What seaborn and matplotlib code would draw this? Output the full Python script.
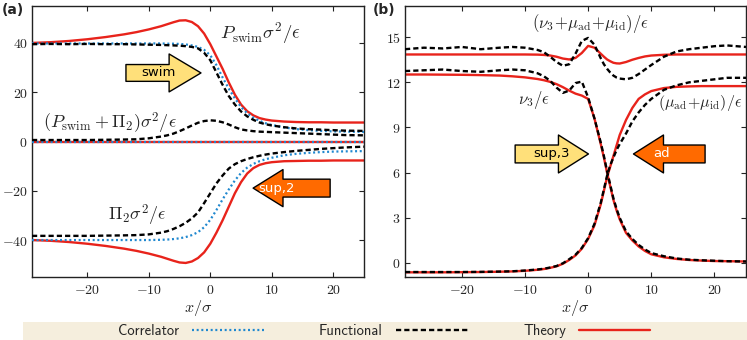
"""Pressure and chemical potential profiles across the interface, panels (a) and (b)."""
import matplotlib
matplotlib.use('Agg')
import matplotlib.pyplot as plt
import seaborn as sns
from matplotlib.patches import FancyArrow, Rectangle
from matplotlib.ticker import FuncFormatter, MultipleLocator

# ---- panel (a): pressures ----
xa = [-29, -26, -23, -20, -17, -14, -12, -10, -8, -7, -6, -5, -4, -3, -2, -1, 0,
      1, 2, 3, 4, 5, 6, 7, 8, 9, 10, 12, 14, 16, 18, 20, 22, 25]
theory_swim = [40.0, 40.3, 40.8, 41.5, 42.4, 43.5, 44.4, 45.5, 46.8, 47.6, 48.4, 49.1,
               49.2, 48.5, 46.8, 43.8, 39.5, 34.5, 29.5, 24.0, 19.0, 15.0, 12.3, 10.6,
               9.5, 8.9, 8.5, 8.1, 7.9, 7.8, 7.8, 7.7, 7.7, 7.7]
theory_pi2 = [-40.0, -40.3, -40.8, -41.5, -42.4, -43.5, -44.4, -45.5, -46.8, -47.6, -48.4,
              -49.1, -49.3, -48.7, -47.3, -45.0, -41.5, -37.0, -32.0, -26.5, -21.0, -16.5,
              -13.0, -10.8, -9.5, -8.8, -8.4, -8.0, -7.9, -7.8, -7.8, -7.7, -7.7, -7.7]
func_swim = [39.5, 39.6, 39.5, 39.6, 39.5, 39.5, 39.4, 39.3, 39.2, 39.1, 39.0, 38.9, 38.7,
             38.4, 37.8, 36.0, 33.0, 28.0, 23.0, 18.5, 15.0, 12.2, 10.2, 8.8, 7.7, 7.0,
             6.5, 5.8, 5.3, 5.0, 4.8, 4.6, 4.4, 4.3]
func_pi2 = [-38.3, -38.3, -38.3, -38.3, -38.2, -38.1, -38.0, -37.7, -37.0, -36.4, -35.5,
            -34.4, -33.0, -31.2, -28.8, -25.0, -21.0, -17.0, -13.8, -11.0, -9.2, -8.0,
            -7.1, -6.4, -5.8, -5.3, -4.9, -4.3, -3.8, -3.4, -3.0, -2.7, -2.4, -2.1]
func_sum = [0.6, 0.6, 0.6, 0.6, 0.7, 0.8, 0.9, 1.3, 2.0, 2.5, 3.2, 4.2, 5.3, 6.5, 7.6, 8.3,
            8.6, 8.4, 7.8, 6.9, 5.8, 4.9, 4.5, 4.2, 4.0, 3.9, 3.8, 3.6, 3.4, 3.2, 3.0, 2.8,
            2.6, 2.5]
corr_swim = [39.8, 39.8, 39.8, 39.8, 39.8, 39.8, 39.8, 39.8, 39.8, 39.7, 39.7, 39.6, 39.4,
             39.0, 38.4, 37.2, 35.0, 31.0, 26.0, 21.5, 17.5, 14.0, 11.5, 9.7, 8.4, 7.4,
             6.7, 5.7, 5.0, 4.6, 4.3, 4.1, 4.0, 3.9]
corr_pi2 = [-40.0, -40.0, -40.0, -40.0, -40.0, -40.0, -40.0, -40.0, -39.9, -39.8, -39.6,
            -39.3, -38.8, -38.0, -36.8, -34.8, -31.8, -27.8, -23.5, -19.5, -15.8, -12.8,
            -10.6, -9.1, -8.0, -7.2, -6.6, -5.6, -5.0, -4.6, -4.3, -4.1, -4.0, -3.9]
# theory and correlator sums are exactly zero
x_ends = [-29, 25]
zero_sum = [0.0, 0.0]

# ---- panel (b): chemical potentials ----
xb = [-29, -26, -23, -20, -17, -14, -12, -10, -8, -7, -6, -5, -4, -3, -2, -1, 0, 1, 2,
      2.5, 3, 3.5, 4, 4.5, 5, 6, 7, 8, 9, 10, 12, 14, 16, 18, 20, 22, 25]
theory_total = [13.85, 13.85, 13.85, 13.85, 13.85, 13.85, 13.85, 13.85, 13.84, 13.82, 13.78,
                13.70, 13.58, 13.52, 13.62, 13.95, 14.42, 14.3, 13.9, 13.7, 13.52, 13.4,
                13.3, 13.26, 13.25, 13.35, 13.5, 13.62, 13.72, 13.78, 13.83, 13.85, 13.85,
                13.85, 13.85, 13.85, 13.85]
func_total = [14.2, 14.3, 14.25, 14.35, 14.2, 14.3, 14.35, 14.3, 14.15, 14.0, 13.7, 13.35,
              13.1, 13.2, 13.9, 14.75, 14.95, 14.5, 13.6, 13.2, 12.9, 12.65, 12.45, 12.32,
              12.25, 12.2, 12.3, 12.55, 12.85, 13.15, 13.7, 14.05, 14.2, 14.3, 14.4, 14.45,
              14.35]
theory_nu = [12.52, 12.52, 12.51, 12.5, 12.48, 12.45, 12.4, 12.33, 12.22, 12.14, 12.03,
             11.88, 11.68, 11.45, 11.25, 11.12, 10.9, 9.6, 7.9, 7.0, 6.0, 5.1, 4.2, 3.5,
             2.9, 2.0, 1.5, 1.1, 0.8, 0.58, 0.38, 0.27, 0.2, 0.16, 0.13, 0.12, 0.1]
func_nu = [12.75, 12.8, 12.85, 12.75, 12.7, 12.8, 12.85, 12.8, 12.6, 12.4, 12.1, 11.65,
           11.3, 11.45, 11.95, 12.05, 11.0, 9.6, 8.0, 7.1, 6.1, 5.2, 4.3, 3.6, 3.0, 2.1,
           1.6, 1.2, 0.9, 0.66, 0.45, 0.3, 0.22, 0.18, 0.15, 0.12, 0.1]
theory_mu = [-0.62, -0.62, -0.62, -0.61, -0.6, -0.58, -0.56, -0.52, -0.45, -0.4, -0.32,
             -0.22, -0.05, 0.2, 0.5, 0.95, 1.6, 2.5, 3.9, 4.8, 5.7, 6.4, 7.1, 7.8, 8.5,
             9.5, 10.3, 10.9, 11.2, 11.42, 11.62, 11.7, 11.73, 11.75, 11.75, 11.75, 11.75]
func_mu = [-0.6, -0.6, -0.6, -0.6, -0.59, -0.57, -0.55, -0.5, -0.43, -0.38, -0.3, -0.2,
           -0.02, 0.25, 0.55, 1.0, 1.65, 2.6, 4.0, 4.9, 5.8, 6.5, 7.0, 7.5, 7.9, 8.6, 9.4,
           10.0, 10.5, 10.9, 11.5, 11.8, 12.0, 12.1, 12.2, 12.3, 12.3]

RED = '#e8231b'
BLUE = '#2088cf'
YELLOW = '#ffe07a'
ORANGE = '#ff6a00'
BEIGE = '#f5eedd'

sns.set_style('ticks')
plt.rcParams['mathtext.fontset'] = 'cm'
plt.rcParams['font.family'] = ['DejaVu Sans']

DASH = (0, (2.2, 1.3))
DOT = (0, (0.9, 1.2))
LW = 1.7


def tick_fmt(v, pos):
    return r'$\mathrm{%g}$' % v


def style_axes(ax, xlim, ylim, ystep):
    ax.set_xlim(*xlim)
    ax.set_ylim(*ylim)
    ax.xaxis.set_major_locator(MultipleLocator(10))
    ax.yaxis.set_major_locator(MultipleLocator(ystep))
    ax.xaxis.set_major_formatter(FuncFormatter(tick_fmt))
    ax.yaxis.set_major_formatter(FuncFormatter(tick_fmt))
    ax.tick_params(direction='in', top=True, right=True, length=3.5, width=0.8,
                   labelsize=10, pad=4, color='#222222')
    ax.tick_params(axis='y', pad=3)
    for s in ax.spines.values():
        s.set_linewidth(1.0)
        s.set_color('#222222')
    ax.set_xlabel(r'$x/\sigma$', fontsize=11.5, labelpad=1)
    ax.set_ylabel('')


def arrow(ax, x0, x1, y, width, head_w, head_l, color, label, tx, tcolor):
    ar = FancyArrow(x0, y, x1 - x0, 0, width=width, head_width=head_w, head_length=head_l,
                    length_includes_head=True, transform=ax.transAxes, fc=color,
                    ec='black', lw=1.0, joinstyle='round', zorder=5)
    ax.add_patch(ar)
    ax.text(tx, y, label, transform=ax.transAxes, ha='center', va='center',
            fontsize=9.5, color=tcolor, zorder=6, family='DejaVu Sans')


fig = plt.figure(figsize=(7.47, 3.4), dpi=100)
ax_a = fig.add_axes([32 / 747, 63 / 340, 332 / 747, 271 / 340])
ax_b = fig.add_axes([405 / 747, 63 / 340, 341 / 747, 271 / 340])

# panel (a)
sns.lineplot(x=xa, y=theory_swim, ax=ax_a, color=RED, linewidth=LW, zorder=2)
sns.lineplot(x=xa, y=theory_pi2, ax=ax_a, color=RED, linewidth=LW, zorder=2)
sns.lineplot(x=x_ends, y=zero_sum, ax=ax_a, color=RED, linewidth=LW, zorder=2)
sns.lineplot(x=xa, y=corr_swim, ax=ax_a, color=BLUE, linewidth=1.6, linestyle=DOT, zorder=3)
sns.lineplot(x=xa, y=corr_pi2, ax=ax_a, color=BLUE, linewidth=1.6, linestyle=DOT, zorder=3)
sns.lineplot(x=x_ends, y=zero_sum, ax=ax_a, color=BLUE, linewidth=1.6, linestyle=DOT, zorder=3)
sns.lineplot(x=xa, y=func_swim, ax=ax_a, color='black', linewidth=LW, linestyle=DASH, zorder=4)
sns.lineplot(x=xa, y=func_pi2, ax=ax_a, color='black', linewidth=LW, linestyle=DASH, zorder=4)
sns.lineplot(x=xa, y=func_sum, ax=ax_a, color='black', linewidth=LW, linestyle=DASH, zorder=4)
style_axes(ax_a, (-29, 25), (-55, 55), 20)

ax_a.text(0.566, 0.900, r'$P_{\rm swim}\sigma^2/\epsilon$', transform=ax_a.transAxes,
          fontsize=13.5, va='center', ha='left')
ax_a.text(0.033, 0.568, r'$(P_{\rm swim}+\Pi_2)\sigma^2/\epsilon$', transform=ax_a.transAxes,
          fontsize=13, va='center', ha='left')
ax_a.text(0.229, 0.229, r'$\Pi_2\sigma^2/\epsilon$', transform=ax_a.transAxes,
          fontsize=13, va='center', ha='left')
arrow(ax_a, 0.283, 0.509, 0.753, 0.062, 0.140, 0.096, YELLOW, 'swim', 0.380, 'black')
arrow(ax_a, 0.898, 0.666, 0.328, 0.066, 0.137, 0.090, ORANGE, 'sup,2', 0.738, 'white')

# panel (b)
sns.lineplot(x=xb, y=theory_total, ax=ax_b, color=RED, linewidth=LW, zorder=2)
sns.lineplot(x=xb, y=theory_nu, ax=ax_b, color=RED, linewidth=LW, zorder=2)
sns.lineplot(x=xb, y=theory_mu, ax=ax_b, color=RED, linewidth=LW, zorder=2)
sns.lineplot(x=xb, y=func_total, ax=ax_b, color='black', linewidth=LW, linestyle=DASH, zorder=4)
sns.lineplot(x=xb, y=func_nu, ax=ax_b, color='black', linewidth=LW, linestyle=DASH, zorder=4)
sns.lineplot(x=xb, y=func_mu, ax=ax_b, color='black', linewidth=LW, linestyle=DASH, zorder=4)
style_axes(ax_b, (-29, 25), (-0.93, 17.07), 3)

ax_b.text(0.5425, 0.937, r'$(\nu_3\!+\!\mu_{\rm ad}\!+\!\mu_{\rm id})/\epsilon$',
          transform=ax_b.transAxes, fontsize=12, va='center', ha='center')
ax_b.text(0.332, 0.653, r'$\nu_3/\epsilon$', transform=ax_b.transAxes,
          fontsize=12, va='center', ha='left')
ax_b.text(0.990, 0.642, r'$(\mu_{\rm ad}\!+\!\mu_{\rm id})/\epsilon$',
          transform=ax_b.transAxes, fontsize=11.5, va='center', ha='right')
arrow(ax_b, 0.323, 0.538, 0.454, 0.066, 0.140, 0.088, YELLOW, 'sup,3', 0.430, 'black')
arrow(ax_b, 0.880, 0.670, 0.454, 0.066, 0.140, 0.088, ORANGE, 'ad', 0.751, 'white')

# panel labels
fig.text(2 / 747, 1 - 3 / 340, '(a)', fontsize=10, fontweight='bold', va='top', ha='left')
fig.text(373 / 747, 1 - 3 / 340, '(b)', fontsize=10, fontweight='bold', va='top', ha='left')

# legend band along the bottom
fig.patches.append(Rectangle((23 / 747, 0), 1 - 23 / 747, 18 / 340, transform=fig.transFigure,
                             facecolor=BEIGE, edgecolor='none', zorder=0))
lines_a = ax_a.get_lines()
handles = [lines_a[3], lines_a[6], lines_a[0]]
fig.legend(handles, ['Correlator', 'Functional', 'Theory'], ncol=3, frameon=False,
           markerfirst=False, loc='center left', bbox_to_anchor=(118 / 747, 9 / 340),
           borderpad=0, borderaxespad=0, handlelength=4.9, handletextpad=0.9,
           columnspacing=3.8, prop={'family': 'cmss10', 'size': 10.5})

fig.savefig('out.png', dpi=100)
